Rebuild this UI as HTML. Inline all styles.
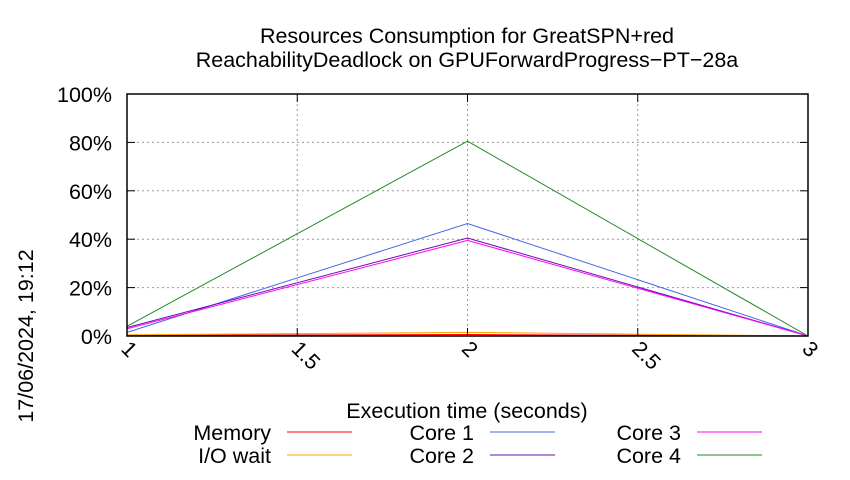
<!DOCTYPE html>
<html><head><meta charset="utf-8"><style>
body{margin:0;background:#fff;font-family:"Liberation Sans",sans-serif}
svg text{font-family:"Liberation Sans",sans-serif}
</style></head><body>
<svg width="850" height="475" xmlns="http://www.w3.org/2000/svg">
<g id="grid"></g>
<g id="series"></g>
<g id="axes"></g>
<text x="467" y="43" font-size="21.5" text-anchor="middle">Resources Consumption for GreatSPN+red</text>
<text x="467" y="67" font-size="21.5" text-anchor="middle">ReachabilityDeadlock on GPUForwardProgress−PT−28a</text>
<text x="467" y="418" font-size="21.5" text-anchor="middle">Execution time (seconds)</text>
<text x="0" y="0" font-size="21.5" text-anchor="middle" transform="translate(33,336) rotate(-90)">17/06/2024, 19:12</text>
<g id="legend"></g>
</svg>
<script>
const xs=[1,2,3];
const seriesNames=["Memory","I/O wait","Core 1","Core 2","Core 3","Core 4"];
const colors=["#ff0000","#ffa500","#4169e1","#6a0dad","#ff00ff","#228b22"];
const memory=[0.3,0.6,0];
const ioWait=[0.5,1.5,0];
const core1=[1.5,46.5,0];
const core2=[3.5,40.5,0];
const core3=[3,39.5,0];
const core4=[4,80.5,0];
const yTicks=[0,20,40,60,80,100];
const xTicks=[1,1.5,2,2.5,3];
const xTickLabels=["1","1.5","2","2.5","3"];
const data=[memory,ioWait,core1,core2,core3,core4];
const L=127,R=808,T=94,B=336;
const sx=v=>L+(v-1)/2*(R-L);
const sy=v=>B-v/100*(B-T);
const NS="http://www.w3.org/2000/svg";
function mk(tag,attrs,parent){const e=document.createElementNS(NS,tag);for(const k in attrs)e.setAttribute(k,attrs[k]);parent.appendChild(e);return e;}
const grid=document.getElementById('grid'),ax=document.getElementById('axes'),se=document.getElementById('series'),lg=document.getElementById('legend');
yTicks.forEach(v=>{
 const g=mk('line',{x1:L,x2:R,y1:sy(v),y2:sy(v),stroke:'#999','stroke-dasharray':'2,3','stroke-width':1},grid);
 
 
 const t=mk('text',{x:L-15,y:sy(v)+8,'font-size':21.5,'text-anchor':'end'},ax);
 t.textContent=v+'%';
 
 
 mk('line',{x1:L,x2:L+8,y1:sy(v),y2:sy(v),stroke:'#000'},ax);
 mk('line',{x1:R,x2:R-8,y1:sy(v),y2:sy(v),stroke:'#000'},ax);
});
xTicks.forEach((v,i)=>{
 const g=mk('line',{x1:sx(v),x2:sx(v),y1:T,y2:B,stroke:'#999','stroke-dasharray':'2,3','stroke-width':1},grid);
 
 
 mk('line',{x1:sx(v),x2:sx(v),y1:B,y2:B-8,stroke:'#000'},ax);
 mk('line',{x1:sx(v),x2:sx(v),y1:T,y2:T+8,stroke:'#000'},ax);
 const t=mk('text',{x:0,y:0,'font-size':21.5,transform:`translate(${sx(v)-7},${B+14}) rotate(45)`},ax);
 t.textContent=xTickLabels[i];
 
 
});
const frame=mk('rect',{x:L,y:T,width:R-L,height:B-T,fill:'none',stroke:'#000','stroke-width':1.5},ax);


data.forEach((d,i)=>{
 const p=mk('polyline',{points:d.map((v,j)=>sx(xs[j])+','+sy(v)).join(' '),fill:'none',stroke:colors[i],'stroke-width':1},se);
 
 
});
const lpos=[[271,432],[271,455],[474,432],[474,455],[681,432],[681,455]];
seriesNames.forEach((n,i)=>{
 const [x,y]=lpos[i];
 const t=mk('text',{x:x,y:y+8,'font-size':21.5,'text-anchor':'end'},lg);
 t.textContent=n;
 
 
 const l=mk('line',{x1:x+16,x2:x+81,y1:y,y2:y,stroke:colors[i]},lg);
 
 
});
</script>
</body></html>
